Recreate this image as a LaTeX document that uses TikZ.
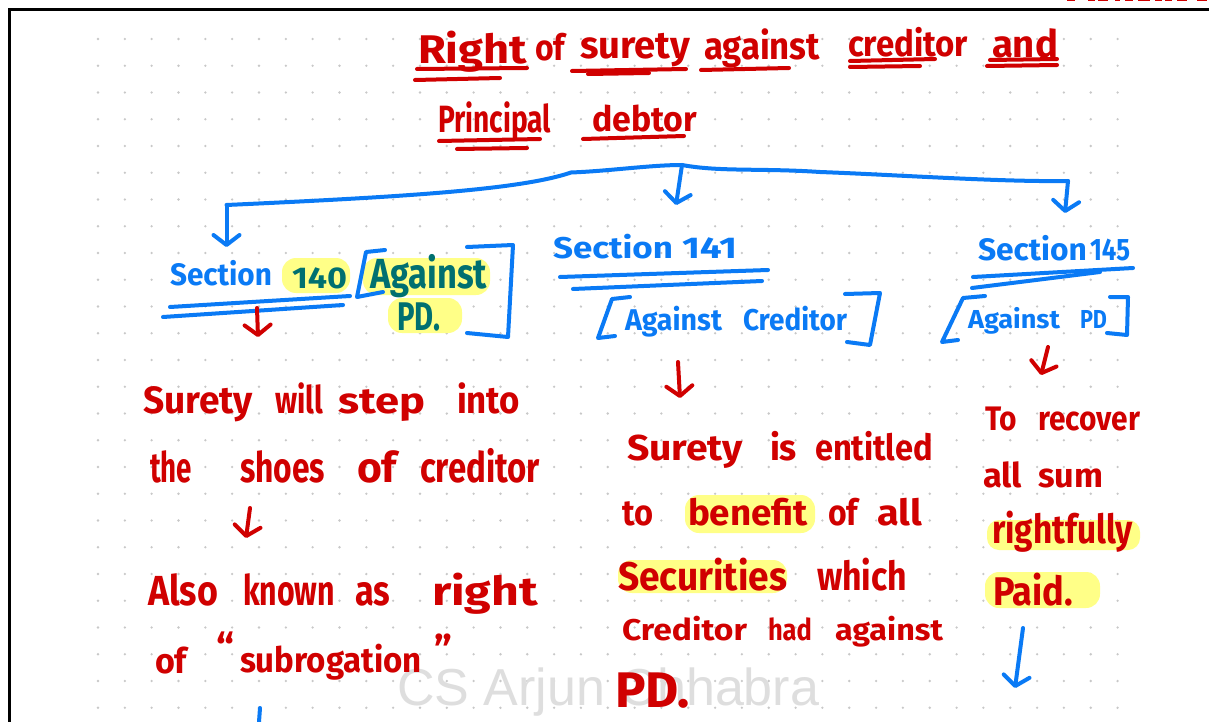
\documentclass[tikz,border=0pt]{standalone}
\usepackage{fontspec}
\setmainfont{Fira Sans}
\newfontfamily\wmfont{Liberation Sans}
\usetikzlibrary{arrows.meta}

\definecolor{inkred}{RGB}{208,0,0}
\definecolor{inkblue}{RGB}{10,122,245}
\definecolor{inkteal}{RGB}{0,112,112}
\definecolor{hilite}{RGB}{255,255,135}
\definecolor{griddot}{RGB}{200,200,200}
\definecolor{wmark}{RGB}{222,222,222}

% one handwritten word: name, colour, x, baseline, width, font size, text
% (the word is stretched to the given width, its height is kept)
\newcommand{\handword}[7]{%
  \node[wordbox, text=#2] (#1) at (#3,#4)
    {\resizebox{#5pt}{\height}{\fontsize{#6pt}{#6pt}\selectfont #7}};}

\tikzset{
  wordbox/.style={anchor=base west, inner sep=0pt, outer sep=0pt, font=\bfseries},
  pen/.style={line width=4pt, line cap=round, line join=round},
  redpen/.style={pen, draw=inkred},
  bluepen/.style={pen, draw=inkblue},
  handtip/.style={-{Straight Barb[length=10pt,width=26pt,line cap=round,line join=round]}},
  marker/.style={fill=hilite, rounded corners=14pt},
}

\begin{document}
\begin{tikzpicture}[x=1pt,y=-1pt]
\useasboundingbox (0,0) rectangle (1209,722);
\fill[white] (0,0) rectangle (1209,722);

% dotted page grid
\foreach \i in {0,...,38}
  \foreach \j in {0,...,25}
    \fill[griddot] ({98+26.83*\i},{39+26.75*\j}) circle (1.3pt);

% page frame and the cut strokes of the next note above it
\draw[line width=3pt] (9.5,722) -- (9.5,9.5) -- (1209,9.5);
\foreach \a/\b in {1067/1075,1088/1095,1098/1108,1115/1120,1125/1133,1138/1150,1155/1162,1165/1172,1177/1187,1197/1207}
  \draw[inkred, line width=1.6pt] (\a,0.4) -- (\b,0.4);

% watermark
\node[anchor=base west, inner sep=0pt, text=wmark, font=\wmfont\fontsize{52}{52}\selectfont] (wm) at (397,705) {CS Arjun Chhabra};

% highlighter marks
\fill[marker] (282,258) rectangle (350,293);
\fill[marker] (363,258) rectangle (490,295);
\fill[marker] (388,298) rectangle (462,333);
\fill[marker] (685,495) rectangle (815,533);
\fill[marker] (618,560) rectangle (787,593);
\fill[marker, rounded corners=12pt] (987,520) -- (1140,520) -- (1140,550) -- (987,550) -- cycle;
\fill[marker] (985,572) rectangle (1100,608);

% title
\handword{tRight}{inkred}{418}{64}{109}{40}{Right}
\handword{tOf}{inkred}{535}{61}{30}{36}{of}
\handword{tSurety}{inkred}{580}{59}{110}{38}{surety}
\handword{tAgainst}{inkred}{704}{60}{116}{38}{against}
\handword{tCreditor}{inkred}{848}{57}{120}{36}{creditor}
\handword{tAnd}{inkred}{992}{58}{66}{38}{and}
\handword{tPrincipal}{inkred}{438}{133}{113}{38}{Principal}
\handword{tDebtor}{inkred}{592}{132}{105}{35}{debtor}

% title underlines
\draw[redpen] (417,69) -- (527,68);
\draw[redpen] (415,80) -- (500,78);
\draw[redpen] (572,71) -- (686,69);
\draw[redpen] (588,74) -- (649,73);
\draw[redpen] (701,70) -- (789,68);
\draw[redpen] (850,61) -- (935,59);
\draw[redpen] (850,67) -- (920,66);
\draw[redpen] (990,60) -- (1057,59);
\draw[redpen] (987,66) -- (1057,65);
\draw[redpen] (439,141) -- (540,139);
\draw[redpen] (457,149) -- (527,148);
\draw[redpen] (583,139) -- (684,136);

% branching connector
\coordinate (lcorner) at (226.5,205);
\coordinate (kink) at (571,172.5);
\coordinate (hub) at (682,165);
\coordinate (rcorner) at (1068,181);
\coordinate (tip140) at (226.5,247);
\coordinate (tip141) at (676,205);
\coordinate (tip145) at (1065,213);
\draw[bluepen] (lcorner) .. controls (400,197) and (520,190) .. (kink)
  .. controls (610,171) and (650,165) .. (hub)
  .. controls (720,172) and (760,168) .. (820,172)
  .. controls (900,175) and (1000,182) .. (rcorner);
\draw[bluepen, handtip] (lcorner) -- (tip140);
\draw[bluepen, handtip] (hub) -- (tip141);
\draw[bluepen, handtip] (rcorner) -- (tip145);

% section 140
\handword{s140}{inkblue}{170}{285}{102}{31}{Section}
\handword{n140}{inkteal}{292}{288}{55}{30}{140}
\handword{a140}{inkteal}{370}{288}{117}{42}{Against}
\handword{p140}{inkteal}{397}{330}{43}{40}{PD.}
\draw[bluepen] (170,307) -- (350,296);
\draw[bluepen] (163,317) -- (343,305);
\draw[bluepen] (385,250) -- (366,252) -- (357,297) -- (383,292);
\draw[bluepen] (467,247) -- (513,245) -- (508,337) -- (467,333);

% section 141
\handword{s141}{inkblue}{553}{258}{120}{30}{Section}
\handword{n141}{inkblue}{682}{258}{55}{30}{141}
\handword{a141}{inkblue}{625}{330}{97}{30}{Against}
\handword{c141}{inkblue}{743}{330}{104}{30}{Creditor}
\draw[bluepen] (560,277) -- (768,270);
\draw[bluepen] (573,289) -- (762,281);
\draw[bluepen] (630,297) -- (612,299) -- (598,338) -- (615,336);
\draw[bluepen] (845,294) -- (880,293) -- (870,345) -- (847,342);

% section 145
\handword{s145}{inkblue}{978}{260}{109}{31}{Section}
\handword{n145}{inkblue}{1090}{260}{40}{31}{145}
\handword{a145}{inkblue}{968}{328}{92}{26}{Against}
\handword{p145}{inkblue}{1080}{328}{27}{26}{PD}
\draw[bluepen] (973,277) -- (1133,268);
\draw[bluepen] (972,288) -- (1100,272);
\draw[bluepen] (985,296) -- (963,298) -- (942,342) -- (958,340);
\draw[bluepen] (1110,297) -- (1128,297) -- (1127,335) -- (1107,333);

% small downward arrows
\coordinate (r1a) at (257,308); \coordinate (r1b) at (258,337);
\coordinate (r2a) at (250,508); \coordinate (r2b) at (246,538);
\coordinate (r3a) at (678,362); \coordinate (r3b) at (680,398);
\coordinate (r4a) at (1048,347); \coordinate (r4b) at (1041,375);
\coordinate (b5a) at (1023,628); \coordinate (b5b) at (1015,688);
\coordinate (b6a) at (260,708); \coordinate (b6b) at (259,722);
\draw[redpen, handtip] (r1a) -- (r1b);
\draw[redpen, handtip] (r2a) -- (r2b);
\draw[redpen, handtip] (r3a) -- (r3b);
\draw[redpen, handtip] (r4a) -- (r4b);
\draw[bluepen, handtip] (b5a) -- (b5b);
\draw[bluepen] (b6a) -- (b6b);

% left column
\handword{l1a}{inkred}{143}{413}{110}{38}{Surety}
\handword{l1b}{inkred}{275}{413}{48}{38}{will}
\handword{l1c}{inkred}{338}{413}{87}{36}{step}
\handword{l1d}{inkred}{457}{413}{63}{38}{into}
\handword{l2a}{inkred}{150}{482}{42}{42}{the}
\handword{l2b}{inkred}{240}{482}{85}{42}{shoes}
\handword{l2c}{inkred}{357}{482}{40}{42}{of}
\handword{l2d}{inkred}{420}{482}{120}{42}{creditor}
\handword{l3a}{inkred}{148}{605}{70}{42}{Also}
\handword{l3b}{inkred}{243}{605}{92}{42}{known}
\handword{l3c}{inkred}{355}{605}{35}{42}{as}
\handword{l3d}{inkred}{432}{605}{106}{40}{right}
\handword{l4a}{inkred}{155}{673}{32}{35}{of}
\node[wordbox, text=inkred, font=\bfseries\fontsize{40}{40}\selectfont] (l4q1) at (216,662) {“};
\handword{l4b}{inkred}{240}{672}{182}{35}{subrogation}
\node[wordbox, text=inkred, font=\bfseries\fontsize{40}{40}\selectfont] (l4q2) at (434,664) {”};

% middle column
\handword{m1a}{inkred}{627}{460}{116}{36}{Surety}
\handword{m1b}{inkred}{770}{460}{27}{36}{is}
\handword{m1c}{inkred}{815}{460}{118}{36}{entitled}
\handword{m2a}{inkred}{622}{525}{31}{36}{to}
\handword{m2b}{inkred}{688}{525}{120}{36}{benefit}
\handword{m2c}{inkred}{828}{525}{30}{36}{of}
\handword{m2d}{inkred}{877}{525}{45}{36}{all}
\handword{m3a}{inkred}{618}{590}{169}{40}{Securities}
\handword{m3b}{inkred}{817}{590}{90}{40}{which}
\handword{m4a}{inkred}{622}{640}{125}{30}{Creditor}
\handword{m4b}{inkred}{768}{640}{44}{30}{had}
\handword{m4c}{inkred}{835}{640}{108}{30}{against}
\handword{m5a}{inkred}{615}{707}{75}{50}{PD.}

% right column
\handword{q1a}{inkred}{985}{430}{32}{34}{To}
\handword{q1b}{inkred}{1038}{430}{102}{34}{recover}
\handword{q2a}{inkred}{983}{487}{39}{34}{all}
\handword{q2b}{inkred}{1038}{487}{65}{34}{sum}
\handword{q3a}{inkred}{992}{543}{141}{40}{rightfully}
\handword{q4a}{inkred}{993}{605}{80}{40}{Paid.}
\end{tikzpicture}
\end{document}
